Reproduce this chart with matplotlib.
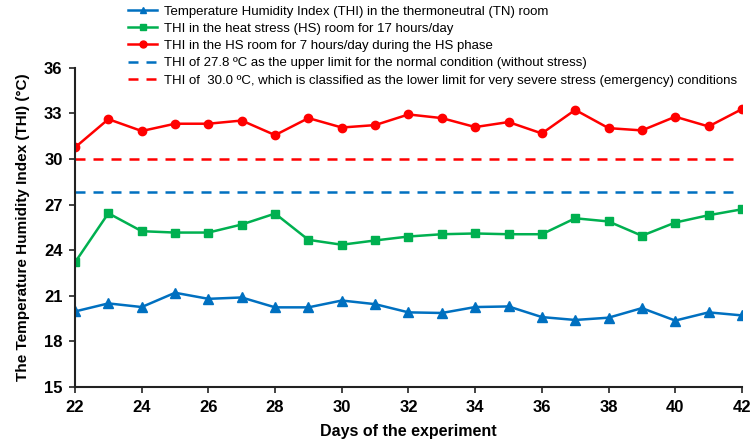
import matplotlib
matplotlib.use("Agg")
import matplotlib.pyplot as plt
from matplotlib.ticker import MultipleLocator

# Data
days = list(range(22, 43))
thi_tn = [19.97, 20.5, 20.26, 21.2, 20.8, 20.89, 20.24, 20.24, 20.69, 20.45,
          19.91, 19.87, 20.26, 20.3, 19.6, 19.41, 19.56, 20.19, 19.37, 19.91, 19.71]
thi_hs17 = [23.2, 26.43, 25.25, 25.16, 25.16, 25.69, 26.41, 24.68, 24.36, 24.64,
            24.9, 25.05, 25.1, 25.05, 25.05, 26.1, 25.89, 24.95, 25.82, 26.3, 26.69]
thi_hs7 = [30.76, 32.62, 31.84, 32.32, 32.32, 32.53, 31.57, 32.69, 32.07, 32.23,
           32.93, 32.69, 32.1, 32.43, 31.68, 33.23, 32.03, 31.88, 32.78, 32.14, 33.28]
normal_limit = 27.8
emergency_limit = 30.0

labels = [
    "Temperature Humidity Index (THI) in the thermoneutral (TN) room",
    "THI in the heat stress (HS) room for 17 hours/day",
    "THI in the HS room for 7 hours/day during the HS phase",
    "THI of 27.8 \u00baC as the upper limit for the normal condition (without stress)",
    "THI of  30.0 \u00baC, which is classified as the lower limit for very severe stress (emergency) conditions",
]

BLUE = "#0070C0"
GREEN = "#00B050"
RED = "#FF0000"

plt.rcParams['font.family'] = ['Liberation Sans', 'DejaVu Sans']

fig = plt.figure(figsize=(7.54, 4.43), dpi=100)
ax = fig.add_axes([0.0995, 0.1264, 0.8845, 0.7206])

l1, = ax.plot(days, thi_tn, color=BLUE, lw=1.8, marker="^", ms=6.5)
l2, = ax.plot(days, thi_hs17, color=GREEN, lw=1.8, marker="s", ms=6)
l3, = ax.plot(days, thi_hs7, color=RED, lw=1.8, marker="o", ms=6)
l4, = ax.plot([days[0], days[-1] - 0.1], [normal_limit] * 2, color=BLUE, lw=1.8, ls=(0, (4, 3.2)))
l5, = ax.plot([days[0], days[-1] - 0.1], [emergency_limit] * 2, color=RED, lw=1.8, ls=(0, (4, 3.2)))

ax.set_xlim(22, 42)
ax.set_ylim(15, 36)
ax.xaxis.set_major_locator(MultipleLocator(2))
ax.yaxis.set_major_locator(MultipleLocator(3))
for s in ["top", "right"]:
    ax.spines[s].set_visible(False)
for s in ["left", "bottom"]:
    ax.spines[s].set_color("#222222")
    ax.spines[s].set_linewidth(1.5)
ax.tick_params(axis="both", which="major", labelsize=12, width=1.2, length=4, color="#222222", pad=5)
for t in ax.get_xticklabels() + ax.get_yticklabels():
    t.set_fontweight("bold")

ax.set_xlabel("Days of the experiment", fontsize=11.5, fontweight="bold", labelpad=7)
ax.set_ylabel("The Temperature Humidity Index (THI) (\u00b0C)", fontsize=11, fontweight="bold", labelpad=10)

leg = fig.legend([l1, l2, l3, l4, l5], labels, loc="upper left",
                 bbox_to_anchor=(0.163, 1.0), frameon=False,
                 prop={'size': 9.5},
                 handlelength=2.2, handletextpad=0.5, labelspacing=0.38, borderaxespad=0)
for h in leg.get_lines():
    h.set_markersize(5)

fig.savefig("out.png", dpi=100)
